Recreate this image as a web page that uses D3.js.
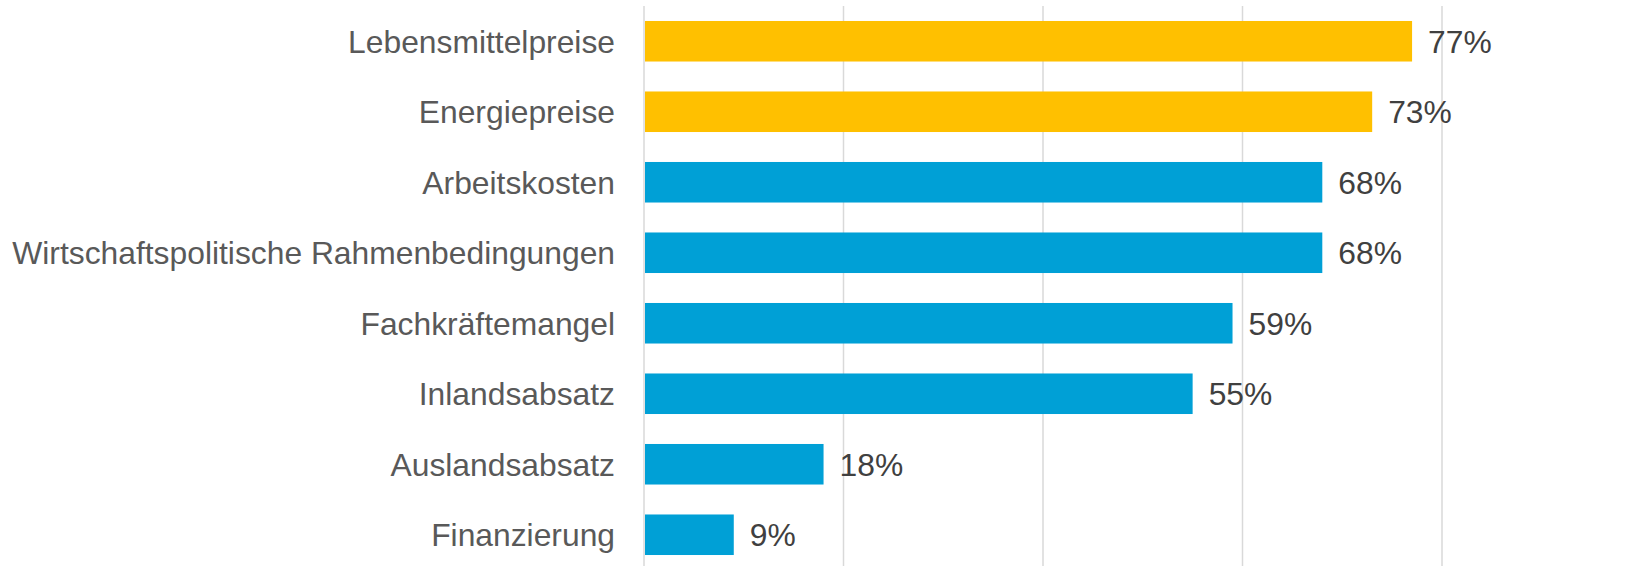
<!DOCTYPE html>
<html>
<head>
<meta charset="utf-8">
<script src="https://cdn.jsdelivr.net/npm/d3@7"></script>
<style>
  html, body { margin: 0; padding: 0; background: #fff; }
  svg { display: block; font-family: "Liberation Sans", Arial, sans-serif; }
</style>
</head>
<body>
<div id="chart"></div>
<script>
// data
var categories = ["Lebensmittelpreise", "Energiepreise", "Arbeitskosten",
  "Wirtschaftspolitische Rahmenbedingungen", "Fachkräftemangel",
  "Inlandsabsatz", "Auslandsabsatz", "Finanzierung"];
var values = [0.77, 0.73, 0.68, 0.68, 0.59, 0.55, 0.18, 0.09];
var highlighted = [true, true, false, false, false, false, false, false];
var gridTicks = [0, 0.2, 0.4, 0.6, 0.8];

var width = 1637, height = 566;

var svg = d3.select("#chart").append("svg")
  .attr("width", width)
  .attr("height", height);

var x = d3.scaleLinear().domain([0, 0.8]).range([644, 1442]);
var y = d3.scaleBand().domain(categories).range([6, 570]).paddingInner(0.425).paddingOuter(0.2125);

// vertical gridlines
svg.append("g").selectAll("line")
  .data(gridTicks)
  .enter().append("line")
  .attr("x1", function(d) { return x(d); })
  .attr("x2", function(d) { return x(d); })
  .attr("y1", 6)
  .attr("y2", height)
  .style("stroke", "#d9d9d9")
  .style("stroke-width", "1.5px");

// bars
svg.append("g").selectAll("rect")
  .data(values)
  .enter().append("rect")
  .attr("x", x(0) + 1)
  .attr("y", function(d, i) { return y(categories[i]); })
  .attr("width", function(d) { return x(d) - x(0) - 1; })
  .attr("height", y.bandwidth())
  .style("fill", function(d, i) { return highlighted[i] ? "#FFC000" : "#00A0D6"; });

// category labels
svg.append("g").selectAll("text")
  .data(categories)
  .enter().append("text")
  .attr("x", 615)
  .attr("y", function(d) { return y(d) + y.bandwidth() / 2; })
  .attr("dy", "0.36em")
  .attr("text-anchor", "end")
  .style("font-size", "31.8px")
  .style("fill", "#595959")
  .text(function(d) { return d; });

// value labels
svg.append("g").selectAll("text")
  .data(values)
  .enter().append("text")
  .attr("x", function(d) { return x(d) + 16; })
  .attr("y", function(d, i) { return y(categories[i]) + y.bandwidth() / 2; })
  .attr("dy", "0.36em")
  .style("font-size", "31.8px")
  .style("fill", "#404040")
  .text(function(d) { return Math.round(d * 100) + "%"; });
</script>
</body>
</html>
